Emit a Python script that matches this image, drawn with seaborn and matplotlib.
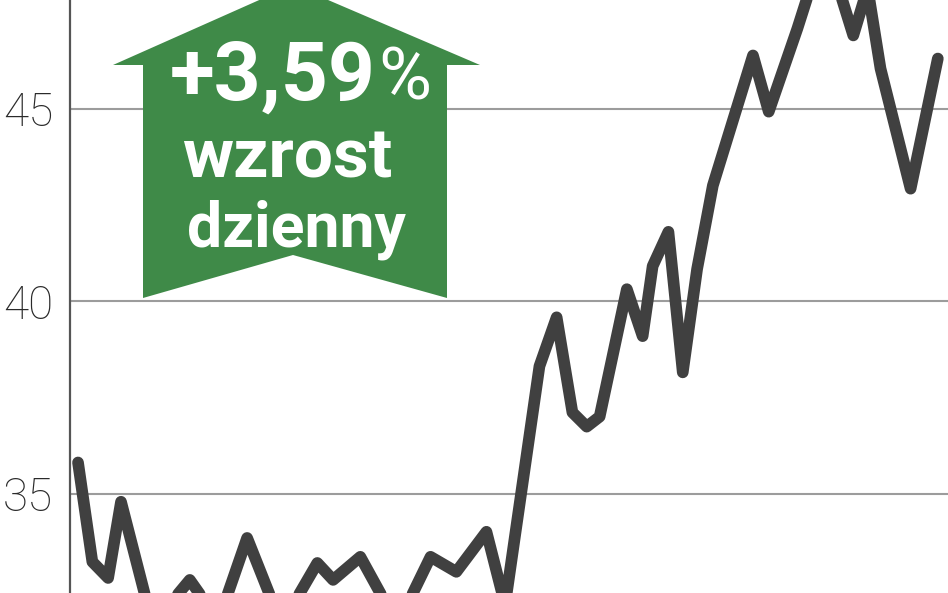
import numpy as np
import pandas as pd
import matplotlib
matplotlib.use("Agg")
import matplotlib.pyplot as plt
from matplotlib.patches import Polygon
import seaborn as sns

# ---- data (trading-day position, price) ----
days = [0.0, 1.0, 2.1, 3.0, 5.2, 7.8, 9.8, 11.8, 14.2, 16.7, 17.8, 19.7,
        22.3, 24.6, 26.4, 28.5, 29.8, 32.2, 33.4, 34.5, 35.5, 36.4, 38.3,
        39.4, 40.1, 41.2, 42.2, 43.2, 44.3, 47.1, 48.2, 50.2, 52.1, 54.1,
        55.1, 56.0, 58.1, 60.0]
prices = [35.81, 33.23, 32.81, 34.79, 31.6, 32.76, 31.7, 33.85, 31.6, 33.20,
          32.76, 33.36, 31.6, 33.36, 32.97, 34.01, 32.11, 38.31, 39.58, 37.11,
          36.74, 37.00, 40.31, 39.09, 40.91, 41.80, 38.15, 40.83, 43.00, 46.38,
          44.92, 47.08, 49.30, 46.90, 48.13, 46.04, 42.92, 46.30]
y_ticks = [35, 40, 45]
y_tick_labels = ["35", "40", "45"]
badge_lines = ["+3,59", "%", "wzrost", "dzienny"]

W, H = 948, 593
sns.set_theme(style="white")
plt.rcParams["font.family"] = ["Roboto", "DejaVu Sans"]

fig = plt.figure(figsize=(W / 100, H / 100), dpi=100)
ax = fig.add_axes([70 / W, 0, 1 - 70 / W, 1])

df = pd.DataFrame({"day": days, "price": prices})
sns.lineplot(data=df, x="day", y="price", ax=ax, color="#404040",
             linewidth=8.4, solid_joinstyle="round", solid_capstyle="round",
             zorder=3)

ax.set_xlim(-0.56, 60.71)
ax.set_ylim(32.42, 47.82)
ax.set_xticks([])
ax.set_yticks(y_ticks)
ax.set_yticklabels(y_tick_labels, fontsize=33, fontweight="light",
                   color="#2a2a2a")
ax.tick_params(axis="y", length=0, pad=12)
ax.set_xlabel("")
ax.set_ylabel("")
ax.yaxis.grid(True, color="#9c9c9c", linewidth=1.5, zorder=1)
ax.xaxis.grid(False)
for s in ["top", "right", "bottom"]:
    ax.spines[s].set_visible(False)
ax.spines["left"].set_color("#555555")
ax.spines["left"].set_linewidth(1.6)
ax.set_facecolor("white")
fig.patch.set_facecolor("white")

# ---- green arrow badge (pixel layout -> figure fraction) ----
def fp(x, y):
    return (x / W, 1 - y / H)

arrow_px = [(293, -15), (480, 65), (447, 65), (447, 298), (293, 255),
            (143, 298), (143, 65), (113, 65)]
poly = Polygon([fp(x, y) for x, y in arrow_px], closed=True,
               transform=fig.transFigure, facecolor="#3f8a48",
               edgecolor="none", zorder=5, clip_on=False)
fig.patches.append(poly)

fig.text(*fp(376, 100), badge_lines[0], ha="right", va="baseline",
         fontsize=59, fontweight="bold", color="white", zorder=6)
fig.text(*fp(378, 100), badge_lines[1], ha="left", va="baseline",
         fontsize=52, fontweight="normal", color="white", zorder=6)
fig.text(*fp(287, 177), badge_lines[2], ha="center", va="baseline",
         fontsize=50, fontweight="bold", color="white", zorder=6)
fig.text(*fp(296, 247), badge_lines[3], ha="center", va="baseline",
         fontsize=45, fontweight="bold", color="white", zorder=6)

fig.savefig("out.png", dpi=100)
